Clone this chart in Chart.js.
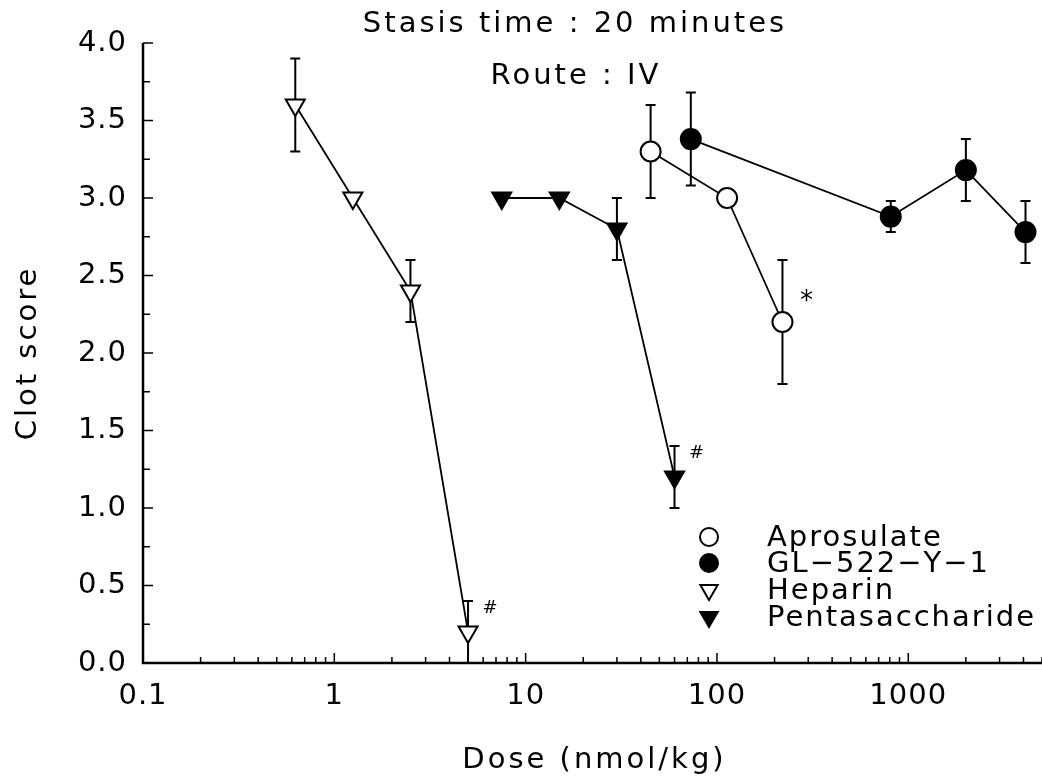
<!DOCTYPE html>
<html>
<head>
<meta charset="utf-8">
<title>Clot score vs dose</title>
<script src="https://cdn.jsdelivr.net/npm/chart.js@4.4.1/dist/chart.umd.min.js"></script>
<style>
  html, body { margin: 0; padding: 0; background: #fff; }
  canvas { display: block; }
</style>
</head>
<body>
<canvas id="clotChart" width="1042" height="776"></canvas>
<script>
// clot score after 20 min stasis, IV dosing (dose on log scale)
const aprosulateDose = [45, 113, 220];
const aprosulateScore = [3.3, 3.0, 2.2];
const aprosulateErr = [0.3, 0, 0.4];
const aprosulateMarks = ['', '', '*'];

const glDose = [73, 810, 2000, 4100];
const glScore = [3.38, 2.88, 3.18, 2.78];
const glErr = [0.3, 0.1, 0.2, 0.2];
const glMarks = ['', '', '', ''];

const heparinDose = [0.625, 1.25, 2.5, 5];
const heparinScore = [3.6, 3.0, 2.4, 0.2];
const heparinErr = [0.3, 0, 0.2, 0.2];
const heparinMarks = ['', '', '', '#'];

const pentaDose = [7.5, 15, 30, 60];
const pentaScore = [3.0, 3.0, 2.8, 1.2];
const pentaErr = [0, 0, 0.2, 0.2];
const pentaMarks = ['', '', '', '#'];

const seriesNames = ['Aprosulate', 'GL\u2212522\u2212Y\u22121', 'Heparin', 'Pentasaccharide'];

const xMajorTicks = [0.1, 1, 10, 100, 1000];
const xTickLabels = ['0.1', '1', '10', '100', '1000'];
const yTickLabels = ['0.0', '0.5', '1.0', '1.5', '2.0', '2.5', '3.0', '3.5', '4.0'];

const FONT = '"DejaVu Sans", "Liberation Sans", sans-serif';

function pts(xs, ys) {
    return xs.map((x, i) => ({ x: x, y: ys[i] }));
}

function series(label, xs, ys, errs, marks, style, filled) {
    return {
        label: label,
        data: pts(xs, ys),
        errors: errs,
        marks: marks,
        showLine: true,
        borderColor: '#000',
        borderWidth: 1.8,
        backgroundColor: filled ? '#000' : '#fff',
        pointStyle: style,
        pointRotation: style === 'triangle' ? 180 : 0,
        pointRadius: style === 'triangle' ? 11 : 10,
        pointBorderWidth: 2,
        pointBorderColor: '#000',
        pointBackgroundColor: filled ? '#000' : '#fff',
        tension: 0,
        clip: false
    };
}

// error bars under the markers
const errorBars = {
    id: 'errorBars',
    beforeDatasetsDraw(chart) {
        const ctx = chart.ctx;
        const y = chart.scales.y;
        ctx.save();
        ctx.strokeStyle = '#000';
        ctx.lineWidth = 2;
        chart.data.datasets.forEach((ds, i) => {
            const meta = chart.getDatasetMeta(i);
            ds.data.forEach((p, j) => {
                const e = ds.errors[j];
                if (!e) return;
                const px = meta.data[j].x;
                const top = y.getPixelForValue(p.y + e);
                const bot = y.getPixelForValue(Math.max(p.y - e, 0));
                ctx.beginPath();
                ctx.moveTo(px, top);
                ctx.lineTo(px, bot);
                ctx.moveTo(px - 5, top);
                ctx.lineTo(px + 5, top);
                if (p.y - e > 0) {
                    ctx.moveTo(px - 5, bot);
                    ctx.lineTo(px + 5, bot);
                }
                ctx.stroke();
            });
        });
        ctx.restore();
    }
};

// axes drawn by hand: ticks point inwards
const frame = {
    id: 'frame',
    beforeDraw(chart) {
        chart.ctx.letterSpacing = '1px';
    },
    afterDraw(chart) {
        const ctx = chart.ctx;
        const xs = chart.scales.x;
        const ys = chart.scales.y;
        const a = chart.chartArea;
        ctx.save();
        ctx.strokeStyle = '#000';
        ctx.lineWidth = 2.5;
        ctx.beginPath();
        ctx.moveTo(a.left, a.top);
        ctx.lineTo(a.left, a.bottom);
        ctx.lineTo(a.right, a.bottom);
        ctx.stroke();

        ctx.lineWidth = 1.5;
        ctx.beginPath();
        xs.ticks.forEach(t => {
            const px = xs.getPixelForValue(t.value);
            const major = xMajorTicks.includes(t.value);
            ctx.moveTo(px, a.bottom);
            ctx.lineTo(px, a.bottom - (major ? 10 : 6));
        });
        for (let v = 0; v <= 4.0001; v += 0.25) {
            const py = ys.getPixelForValue(v);
            const major = Math.abs(v * 2 - Math.round(v * 2)) < 1e-6;
            ctx.moveTo(a.left, py);
            ctx.lineTo(a.left + (major ? 10 : 7), py);
        }
        ctx.stroke();

        // significance marks beside points
        const markOffset = { '#': [22, -24], '*': [24, -20] };
        chart.data.datasets.forEach((ds, i) => {
            const meta = chart.getDatasetMeta(i);
            ds.marks.forEach((m, j) => {
                if (!m) return;
                const el = meta.data[j];
                const off = markOffset[m];
                ctx.fillStyle = '#000';
                ctx.font = (m === '*' ? '26px ' : '18px ') + FONT;
                ctx.letterSpacing = '0px';
                ctx.textAlign = 'center';
                ctx.textBaseline = 'middle';
                ctx.fillText(m, el.x + off[0], el.y + off[1]);
            });
        });

        // titles
        ctx.fillStyle = '#000';
        ctx.letterSpacing = '3px';
        ctx.font = '29px ' + FONT;
        ctx.textAlign = 'center';
        ctx.textBaseline = 'middle';
        ctx.fillText('Stasis time : 20 minutes', 575, 24);
        ctx.fillText('Route : IV', 576, 76);
        ctx.fillText('Dose (nmol/kg)', (a.left + a.right) / 2 + 2, 760);
        ctx.save();
        ctx.translate(28, (a.top + a.bottom) / 2);
        ctx.rotate(-Math.PI / 2);
        ctx.fillText('Clot score', 0, 0);
        ctx.restore();

        // legend
        const rows = [537, 563, 590, 617];
        ctx.letterSpacing = '2px';
        ctx.font = '29px ' + FONT;
        ctx.textAlign = 'left';
        chart.data.datasets.forEach((ds, i) => {
            ctx.fillStyle = ds.pointBackgroundColor;
            ctx.strokeStyle = '#000';
            ctx.lineWidth = 2;
            Chart.helpers.drawPoint(ctx, {
                pointStyle: ds.pointStyle,
                rotation: ds.pointRotation,
                radius: ds.pointStyle === 'triangle' ? 10 : 9,
                borderWidth: 2
            }, 709, rows[i]);
            ctx.fillStyle = '#000';
            ctx.fillText(ds.label, 767, rows[i] + 1);
        });
        ctx.restore();
    }
};

const ctx = document.getElementById('clotChart').getContext('2d');

new Chart(ctx, {
    type: 'scatter',
    data: {
        datasets: [
            series(seriesNames[0], aprosulateDose, aprosulateScore, aprosulateErr, aprosulateMarks, 'circle', false),
            series(seriesNames[1], glDose, glScore, glErr, glMarks, 'circle', true),
            series(seriesNames[2], heparinDose, heparinScore, heparinErr, heparinMarks, 'triangle', false),
            series(seriesNames[3], pentaDose, pentaScore, pentaErr, pentaMarks, 'triangle', true)
        ]
    },
    options: {
        responsive: false,
        animation: false,
        devicePixelRatio: 1,
        layout: {
            autoPadding: false,
            padding: { top: 43, right: 0, left: 0, bottom: 0 }
        },
        plugins: {
            legend: { display: false },
            tooltip: { enabled: false }
        },
        scales: {
            x: {
                type: 'logarithmic',
                min: 0.1,
                max: 5000,
                afterBuildTicks: (scale) => {
                    const ticks = [];
                    for (let d = -1; d <= 3; d++) {
                        for (let m = 1; m <= 9; m++) {
                            const v = +(m * Math.pow(10, d)).toPrecision(3);
                            if (v <= 5000) ticks.push({ value: v });
                        }
                    }
                    scale.ticks = ticks;
                },
                afterFit: (scale) => {
                    scale.height = 113;
                    scale.paddingLeft = 0;
                    scale.paddingRight = 0;
                },
                grid: { display: false, drawTicks: false },
                border: { display: false },
                ticks: {
                    autoSkip: false,
                    maxRotation: 0,
                    padding: 16,
                    color: '#000',
                    font: { family: FONT, size: 29 },
                    callback: (v) => {
                        const k = xMajorTicks.indexOf(v);
                        return k >= 0 ? xTickLabels[k] : '';
                    }
                }
            },
            y: {
                min: 0,
                max: 4,
                afterFit: (scale) => { scale.width = 143; },
                grid: { display: false, drawTicks: false },
                border: { display: false },
                ticks: {
                    stepSize: 0.5,
                    padding: 16,
                    color: '#000',
                    font: { family: FONT, size: 29 },
                    callback: (v) => yTickLabels[Math.round(v * 2)]
                }
            }
        }
    },
    plugins: [errorBars, frame]
});
</script>
</body>
</html>
